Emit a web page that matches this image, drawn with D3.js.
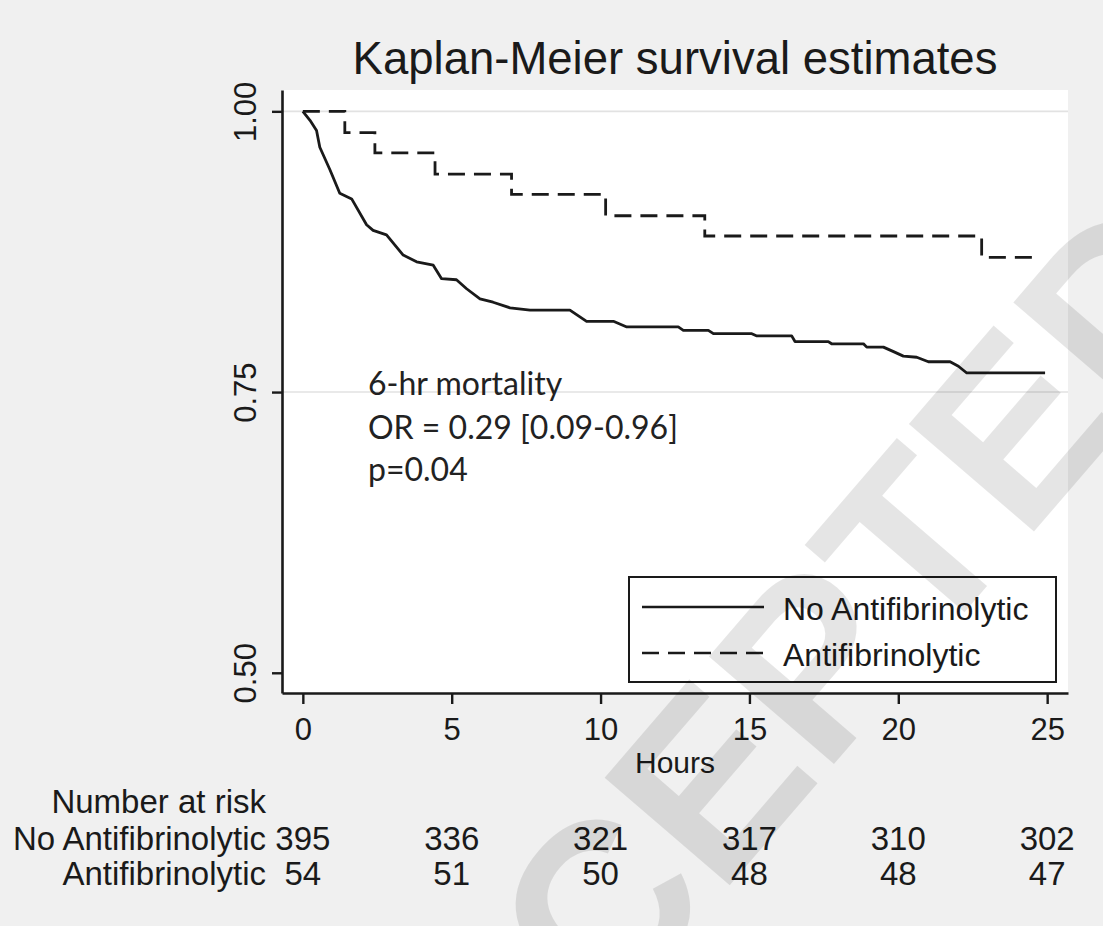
<!DOCTYPE html>
<html>
<head>
<meta charset="utf-8">
<script src="https://cdn.jsdelivr.net/npm/d3@7"></script>
<style>
  html, body { margin: 0; padding: 0; background: #f0f0f0; }
  svg { display: block; }
</style>
</head>
<body>
<svg id="chart" width="1103" height="926"></svg>
<script>
// ---- data ----
const hourTicks = [0, 5, 10, 15, 20, 25];
const survTicks = [0.50, 0.75, 1.00];
const gridTicks = [0.75, 1.00];

// No antifibrinolytic (n=395): points along the KM curve
const noAfHours = [0, 0.24, 0.46, 0.57, 0.91, 1.24, 1.64, 2.14, 2.36, 2.81, 3.37, 3.82, 4.38, 4.66,
  5.16, 5.50, 5.95, 6.39, 6.96, 7.63, 8.97, 9.53, 10.43, 10.88, 12.61, 12.78, 13.62, 13.79,
  15.08, 15.25, 16.42, 16.53, 17.65, 17.76, 18.83, 18.94, 19.50, 19.84, 20.17, 20.62, 21.01,
  21.74, 22.02, 22.30, 24.93];
const noAfSurv = [1.000, 0.992, 0.983, 0.968, 0.948, 0.927, 0.922, 0.899, 0.894, 0.890, 0.872, 0.866, 0.863, 0.851,
  0.850, 0.842, 0.833, 0.830, 0.825, 0.823, 0.823, 0.813, 0.813, 0.808, 0.808, 0.805, 0.805, 0.802,
  0.802, 0.800, 0.800, 0.795, 0.795, 0.793, 0.793, 0.790, 0.790, 0.786, 0.782, 0.781, 0.777,
  0.777, 0.773, 0.767, 0.767];

// Antifibrinolytic (n=54): step function
const afHours = [0, 1.41, 2.42, 4.44, 7.01, 10.17, 13.50, 22.80, 24.70];
const afSurv  = [1.000, 0.981, 0.963, 0.944, 0.926, 0.907, 0.889, 0.870, 0.870];

const groups = ['No Antifibrinolytic', 'Antifibrinolytic'];
const riskNoAf = [395, 336, 321, 317, 310, 302];
const riskAf   = [54, 51, 50, 48, 48, 47];
const noteLines = ['6-hr mortality', 'OR = 0.29 [0.09-0.96]', 'p=0.04'];

// ---- layout ----
const SANS = '"Liberation Sans", Arial, Helvetica, sans-serif';
const INK = '#1a1a1a';

const svg = d3.select('#chart');
const x = d3.scaleLinear().domain([-0.7, 25.7]).range([282, 1068]);
const y = d3.scaleLinear().domain([0.482, 1.019]).range([693, 90]);

svg.append('rect').attr('width', 1103).attr('height', 926).attr('fill', '#f0f0f0');

// plot region
svg.append('rect')
  .attr('x', x.range()[0]).attr('y', y.range()[1])
  .attr('width', x.range()[1] - x.range()[0])
  .attr('height', y.range()[0] - y.range()[1])
  .attr('fill', '#fff');

svg.append('g').selectAll('line').data(gridTicks).join('line')
  .attr('x1', x.range()[0]).attr('x2', x.range()[1])
  .attr('y1', d => y(d)).attr('y2', d => y(d))
  .attr('stroke', '#e2e2e2').attr('stroke-width', 1.6);

// title
svg.append('text')
  .attr('x', (x.range()[0] + x.range()[1]) / 2).attr('y', 74)
  .attr('text-anchor', 'middle')
  .attr('font-family', SANS).attr('font-size', 45.5).attr('fill', INK)
  .text('Kaplan-Meier survival estimates');

// axes
const xAxis = svg.append('g')
  .attr('transform', `translate(0,${y.range()[0]})`)
  .call(d3.axisBottom(x).tickValues(hourTicks).tickSize(11).tickSizeOuter(0).tickPadding(14));
const yAxis = svg.append('g')
  .attr('transform', `translate(${x.range()[0]},0)`)
  .call(d3.axisLeft(y).tickValues(survTicks).tickFormat(d3.format('.2f')).tickSize(10).tickSizeOuter(0));

[xAxis, yAxis].forEach(g => {
  g.select('.domain').attr('stroke', INK).attr('stroke-width', 2.6);
  g.selectAll('.tick line').attr('stroke', INK).attr('stroke-width', 2.4);
  g.selectAll('.tick text').attr('fill', INK).attr('font-family', SANS).attr('font-size', 31);
});
yAxis.selectAll('.tick text')
  .attr('transform', 'rotate(-90)')
  .attr('x', 0).attr('y', -26).attr('dy', 0)
  .attr('text-anchor', 'middle');

svg.append('text')
  .attr('x', (x.range()[0] + x.range()[1]) / 2).attr('y', 773)
  .attr('text-anchor', 'middle')
  .attr('font-family', SANS).attr('font-size', 30).attr('fill', INK)
  .text('Hours');

// curves
const noAf = noAfHours.map((h, i) => [h, noAfSurv[i]]);
const af = afHours.map((h, i) => [h, afSurv[i]]);

svg.append('path').datum(noAf)
  .attr('d', d3.line().x(d => x(d[0])).y(d => y(d[1])))
  .attr('fill', 'none').attr('stroke', INK).attr('stroke-width', 2.8)
  .attr('stroke-linejoin', 'round');

svg.append('path').datum(af)
  .attr('d', d3.line().x(d => x(d[0])).y(d => y(d[1])).curve(d3.curveStepAfter))
  .attr('fill', 'none').attr('stroke', INK).attr('stroke-width', 2.8)
  .attr('stroke-dasharray', '17 9');

// annotation
svg.append('g').selectAll('text').data(noteLines).join('text')
  .attr('x', 368).attr('y', (d, i) => [395, 439, 481][i])
  .attr('font-family', 'Lato, "Open Sans", sans-serif').attr('font-size', 32)
  .attr('fill', '#222')
  .text(d => d);

// legend
const lg = svg.append('g');
lg.append('rect').attr('x', 629).attr('y', 577).attr('width', 427).attr('height', 105)
  .attr('fill', '#fff').attr('stroke', INK).attr('stroke-width', 2);
groups.forEach((name, i) => {
  const ly = [607, 653][i];
  lg.append('line').attr('x1', 642).attr('x2', 764).attr('y1', ly).attr('y2', ly)
    .attr('stroke', INK).attr('stroke-width', 2.6)
    .attr('stroke-dasharray', i ? '17 9' : null);
  lg.append('text').attr('x', 783).attr('y', ly + 13)
    .attr('font-family', SANS).attr('font-size', 32).attr('fill', INK)
    .text(name);
});

// number at risk table
const risk = svg.append('g').attr('font-family', SANS).attr('font-size', 33).attr('fill', INK);
risk.append('text').attr('x', 266).attr('y', 813).attr('text-anchor', 'end').text('Number at risk');
[riskNoAf, riskAf].forEach((row, i) => {
  const ry = [850, 885][i];
  risk.append('text').attr('x', 266).attr('y', ry).attr('text-anchor', 'end').text(groups[i]);
  risk.append('g').selectAll('text').data(row).join('text')
    .attr('x', (d, j) => x(hourTicks[j])).attr('y', ry)
    .attr('text-anchor', 'middle')
    .text(d => d);
});

// watermark
svg.append('text')
  .attr('transform', 'translate(745,735) rotate(-49.3)')
  .attr('text-anchor', 'middle').attr('dy', '0.36em')
  .attr('font-family', SANS).attr('font-weight', 'bold').attr('font-size', 240)
  .attr('fill', '#000').attr('fill-opacity', 0.1)
  .text('ACCEPTED');
</script>
</body>
</html>
